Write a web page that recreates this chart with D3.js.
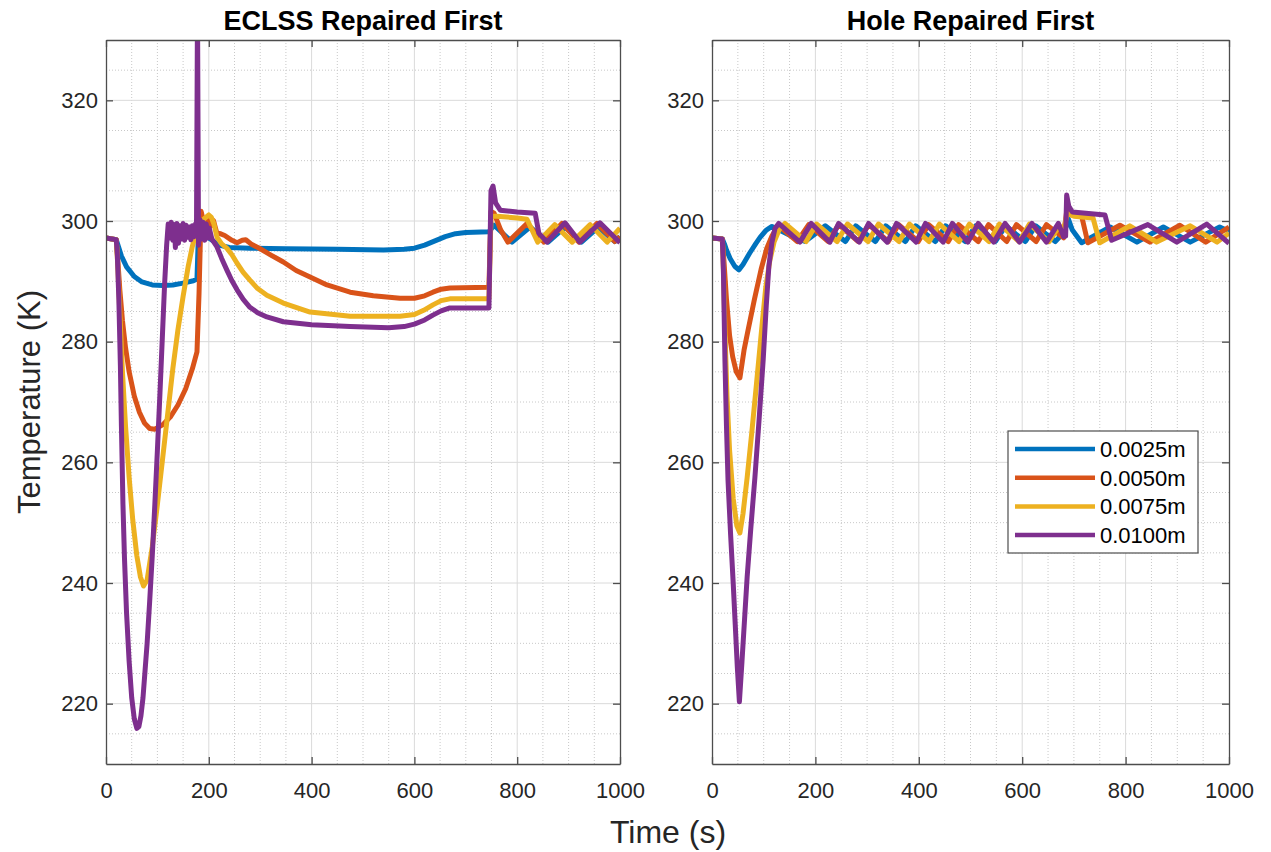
<!DOCTYPE html>
<html>
<head>
<meta charset="utf-8">
<script src="https://cdn.jsdelivr.net/npm/d3@7"></script>
<style>
  body { margin: 0; background: #fff; }
  text { font-family: "Liberation Sans", Arial, Helvetica, sans-serif; fill: #262626; }
</style>
</head>
<body>
<script>
// ---- data: [time (s), temperature (K)] ----
var titles = ["ECLSS Repaired First", "Hole Repaired First"];
var labels = ["0.0025m", "0.0050m", "0.0075m", "0.0100m"];
var colors = ["#0072BD", "#D95319", "#EDB120", "#7E2F8E"];
var xTicks = [0, 200, 400, 600, 800, 1000];
var yTicks = [220, 240, 260, 280, 300, 320];

var eclss_0025 = [[0,297.2],[20,296.9],[24,295.8],[30,294.2],[40,292.4],[55,290.8],[70,289.9],[90,289.4],[110,289.3],[130,289.4],[150,289.7],[170,290.1],[177,290.4],[180,298.4],[186,298.8],[192,297.8],[200,297.2],[210,296.6],[220,296.0],[240,295.6],[280,295.5],[350,295.4],[450,295.3],[540,295.2],[580,295.3],[600,295.5],[620,296.0],[640,296.7],[660,297.4],[680,297.9],[700,298.1],[745,298.2],[755,299.3],[790,296.5],[825,299.0],[860,296.5],[893,299.0],[925,296.5],[958,299.0],[990,296.6],[1000,297.4]];
var eclss_0050 = [[0,297.2],[20,296.9],[23,293.5],[27,288.5],[32,283.5],[38,279.0],[45,275.0],[55,271.0],[65,268.3],[75,266.5],[85,265.6],[95,265.5],[110,266.2],[125,267.5],[140,269.5],[155,272.2],[168,275.5],[177,278.3],[181,288],[185,301.6],[189,300.2],[194,299.0],[199,300.6],[204,299.2],[209,300.1],[215,298.2],[222,297.9],[231,297.6],[245,296.8],[255,296.4],[265,296.8],[272,296.9],[282,296.2],[300,295.4],[320,294.4],[345,293.2],[370,291.8],[397,290.7],[430,289.4],[475,288.2],[520,287.6],[572,287.2],[600,287.2],[620,287.6],[636,288.2],[652,288.7],[669,288.9],[745,289.0],[749,301.6],[755,301.3],[768,298.5],[782,296.5],[819,299.6],[852,296.5],[887,299.6],[920,296.5],[955,299.6],[990,296.6],[1000,297.4]];
var eclss_0075 = [[0,297.2],[20,296.9],[23,292.5],[27,284.5],[32,275],[38,266],[45,257.5],[52,250.5],[60,244.5],[67,241],[73,239.5],[80,240.5],[90,246],[100,253],[110,260.5],[120,268],[130,275.5],[140,282],[150,287.5],[160,292.5],[168,295.8],[175,298.0],[182,299.2],[190,300.3],[200,301.0],[205,300.6],[210,299.5],[216,297.3],[225,296.2],[235,295.5],[245,294.4],[255,293.0],[267,291.5],[280,290.2],[295,288.8],[313,287.7],[345,286.4],[397,284.9],[475,284.2],[572,284.2],[600,284.5],[618,285.2],[636,286.1],[652,286.8],[669,287.1],[745,287.1],[749,300.8],[760,300.8],[800,300.5],[819,300.3],[840,296.5],[873,299.4],[907,296.5],[942,299.4],[975,296.5],[1000,298.8]];
var eclss_0100 = [[0,297.2],[20,296.9],[22,294.5],[25,287],[28,276],[30,266],[33,253],[36,244],[40,235],[45,227],[50,221],[55,217.5],[60,215.9],[64,216.2],[68,218],[72,221],[76,225.5],[80,230],[85,237],[90,244.5],[95,253],[100,262],[105,271.5],[110,281.5],[114,289.5],[118,296],[121,299.5],[124,297.2],[127,299.8],[130,296.8],[133,299.4],[135,295.6],[138,299.6],[141,296.3],[144,299.2],[147,297.0],[150,299.6],[153,296.8],[156,299.3],[159,297.3],[162,299.0],[165,296.9],[168,299.2],[171,297.4],[174,299.5],[176,297.5],[178,336],[180,296.0],[183,300.2],[186,297.0],[189,299.8],[192,296.8],[195,299.5],[198,297.2],[201,298.8],[206,297.0],[216,295.7],[225,293.8],[235,291.9],[245,290.1],[255,288.6],[267,287.0],[280,285.7],[295,284.8],[313,284.1],[345,283.3],[400,282.8],[475,282.5],[550,282.3],[580,282.5],[600,282.9],[620,283.6],[636,284.4],[652,285.1],[669,285.6],[745,285.6],[749,305.0],[753,305.8],[758,303.0],[767,301.8],[800,301.5],[835,301.3],[842,298],[858,296.5],[893,299.7],[922,296.5],[961,299.7],[1000,296.4]];

var hole_0025 = [[0,297.2],[20,297.0],[24,296.2],[28,295.2],[35,293.8],[44,292.5],[52,291.9],[60,292.8],[73,294.7],[85,296.3],[93,297.3],[105,298.5],[116,299.1],[135,298.3],[158,297.3],[180,296.6],[200,297.9],[219,299.2],[258,296.6],[278,299.2],[316,296.6],[336,299.2],[374,296.6],[394,299.2],[432,296.6],[452,299.2],[490,296.6],[510,299.2],[548,296.6],[568,299.2],[606,296.6],[626,299.2],[664,296.6],[682,298.2],[689,300.4],[697,298.5],[715,296.4],[770,299.0],[822,296.5],[873,299.0],[925,296.5],[982,299.0],[1000,298.3]];
var hole_0050 = [[0,297.2],[20,297.0],[23,293.5],[28,287],[34,281],[40,277.5],[47,275],[54,274],[62,278.6],[70,282],[82,287],[95,292],[106,295.5],[116,297.5],[128,299.3],[165,296.6],[187,299.4],[225,296.6],[245,299.4],[283,296.6],[303,299.4],[341,296.6],[361,299.4],[399,296.6],[419,299.4],[457,296.6],[477,299.4],[515,296.6],[535,299.4],[570,296.6],[589,299.4],[627,296.6],[647,299.4],[680,297.2],[686,301.6],[692,301.2],[715,300.8],[727,296.4],[789,299.3],[847,296.5],[905,299.3],[955,296.5],[1000,299.0]];
var hole_0075 = [[0,297.2],[20,297.0],[22,292],[25,282],[29,271],[34,262],[41,254],[48,249.5],[54,248.3],[60,251.5],[68,257.5],[77,265],[86,273],[96,282],[104,289],[112,293.5],[120,296.5],[130,298.6],[141,299.6],[182,296.6],[202,299.5],[242,296.6],[262,299.5],[302,296.6],[322,299.5],[362,296.6],[382,299.5],[420,296.6],[440,299.5],[478,296.6],[498,299.5],[536,296.6],[556,299.5],[594,296.6],[614,299.5],[652,296.6],[672,299.2],[680,298.6],[687,301.2],[700,300.8],[737,300.5],[750,296.4],[808,299.2],[860,296.5],[925,299.2],[977,296.5],[1000,298.0]];
var hole_0100 = [[0,297.2],[20,297.0],[22,292],[25,277],[28,266],[31,257],[36,248],[41,240],[45,233],[49,226],[53,220.3],[58,227],[63,234],[68,241],[75,249],[83,257.5],[91,267],[99,277],[105,286],[110,292.5],[116,296.5],[122,298.8],[129,299.6],[170,296.5],[192,299.6],[228,296.5],[245,299.6],[285,296.5],[303,299.6],[339,296.5],[357,299.6],[395,296.5],[413,299.6],[447,296.5],[465,299.6],[495,296.5],[515,299.6],[545,296.5],[567,299.6],[595,296.5],[619,299.6],[647,296.5],[670,299.6],[680,297.4],[684,297.5],[686,304.3],[690,302.5],[697,301.5],[760,301.0],[773,296.8],[843,299.4],[899,296.5],[957,299.5],[1000,296.3]];

// ---- layout ----
var W = 1271, H = 852;
var plotTop = 40, plotBottom = 764;

var panels = [
    {title: titles[0], left: 106, right: 620, series: [eclss_0025, eclss_0050, eclss_0075, eclss_0100]},
    {title: titles[1], left: 712, right: 1229, series: [hole_0025, hole_0050, hole_0075, hole_0100]}
];

var svg = d3.select("body").append("svg")
    .attr("width", W)
    .attr("height", H);

var defs = svg.append("defs");

panels.forEach(function (p, i) {
    var x = d3.scaleLinear().domain([0, 1000]).range([p.left, p.right]);
    var y = d3.scaleLinear().domain([210, 330]).range([plotBottom, plotTop]);
    var g = svg.append("g");

    // minor grid (dotted)
    var xMinor = d3.range(50, 1000, 50).filter(function (d) { return d % 200 !== 0; });
    var yMinor = d3.range(215, 330, 5).filter(function (d) { return d % 20 !== 0; });
    g.selectAll(".mx").data(xMinor).enter().append("line")
        .attr("x1", x).attr("x2", x)
        .attr("y1", plotTop).attr("y2", plotBottom)
        .attr("stroke", "#c8c8c8").attr("stroke-width", 1).attr("stroke-dasharray", "1,2");
    g.selectAll(".my").data(yMinor).enter().append("line")
        .attr("x1", p.left).attr("x2", p.right)
        .attr("y1", y).attr("y2", y)
        .attr("stroke", "#c8c8c8").attr("stroke-width", 1).attr("stroke-dasharray", "1,2");

    // major grid
    g.selectAll(".gx").data(xTicks.slice(1, -1)).enter().append("line")
        .attr("x1", x).attr("x2", x)
        .attr("y1", plotTop).attr("y2", plotBottom)
        .attr("stroke", "#dadada").attr("stroke-width", 1);
    g.selectAll(".gy").data(yTicks).enter().append("line")
        .attr("x1", p.left).attr("x2", p.right)
        .attr("y1", y).attr("y2", y)
        .attr("stroke", "#dadada").attr("stroke-width", 1);

    // clip
    defs.append("clipPath").attr("id", "clip" + i)
        .append("rect")
        .attr("x", p.left).attr("y", plotTop)
        .attr("width", p.right - p.left).attr("height", plotBottom - plotTop);

    var line = d3.line()
        .x(function (d) { return x(d[0]); })
        .y(function (d) { return y(d[1]); });

    var lines = g.append("g").attr("clip-path", "url(#clip" + i + ")");
    p.series.forEach(function (s, k) {
        lines.append("path")
            .datum(s)
            .attr("fill", "none")
            .attr("stroke", colors[k])
            .attr("stroke-width", 5)
            .attr("stroke-linejoin", "round")
            .attr("d", line);
    });

    // axes (ticks inside, box on)
    var ax = svg.append("g").attr("class", "axes");
    ax.append("g")
        .attr("transform", "translate(0," + plotBottom + ")")
        .call(d3.axisBottom(x).tickValues(xTicks).tickFormat(d3.format("d")).tickSize(-7).tickPadding(18).tickSizeOuter(0));
    ax.append("g")
        .attr("transform", "translate(0," + plotTop + ")")
        .call(d3.axisTop(x).tickValues(xTicks).tickSize(-7).tickFormat("").tickSizeOuter(0));
    ax.append("g")
        .attr("transform", "translate(" + p.left + ",0)")
        .call(d3.axisLeft(y).tickValues(yTicks).tickSize(-7).tickPadding(8).tickSizeOuter(0));
    ax.append("g")
        .attr("transform", "translate(" + p.right + ",0)")
        .call(d3.axisRight(y).tickValues(yTicks).tickSize(-7).tickFormat("").tickSizeOuter(0));
    ax.selectAll("path.domain").attr("stroke", "#4d4d4d").attr("stroke-width", 1.3);
    ax.selectAll(".tick line").attr("stroke", "#4d4d4d").attr("stroke-width", 1.3);
    ax.selectAll(".tick text")
        .style("font-size", "22px")
        .style("font-family", "'Liberation Sans', Arial, sans-serif")
        .attr("fill", "#262626");

    // title
    svg.append("text")
        .attr("x", (p.left + p.right) / 2)
        .attr("y", 30)
        .attr("text-anchor", "middle")
        .style("font-size", "27px")
        .style("font-weight", "bold")
        .style("fill", "#000")
        .text(p.title);
});

// axis labels
svg.append("text")
    .attr("text-anchor", "middle")
    .attr("transform", "translate(40,402)rotate(-90)")
    .style("font-size", "31px")
    .text("Temperature (K)");

svg.append("text")
    .attr("text-anchor", "middle")
    .attr("x", 668)
    .attr("y", 843)
    .style("font-size", "32px")
    .text("Time (s)");

// legend (right panel)
var lg = svg.append("g").attr("transform", "translate(1008,431)");
lg.append("rect")
    .attr("width", 190).attr("height", 122)
    .attr("fill", "#fff").attr("stroke", "#4d4d4d").attr("stroke-width", 1.2);
labels.forEach(function (name, k) {
    var yy = 18 + k * 28.7;
    lg.append("line")
        .attr("x1", 7).attr("x2", 87)
        .attr("y1", yy).attr("y2", yy)
        .attr("stroke", colors[k]).attr("stroke-width", 4.5);
    lg.append("text")
        .attr("x", 92).attr("y", yy)
        .attr("dy", "0.36em")
        .style("font-size", "22px")
        .style("fill", "#000")
        .text(name);
});
</script>
</body>
</html>
